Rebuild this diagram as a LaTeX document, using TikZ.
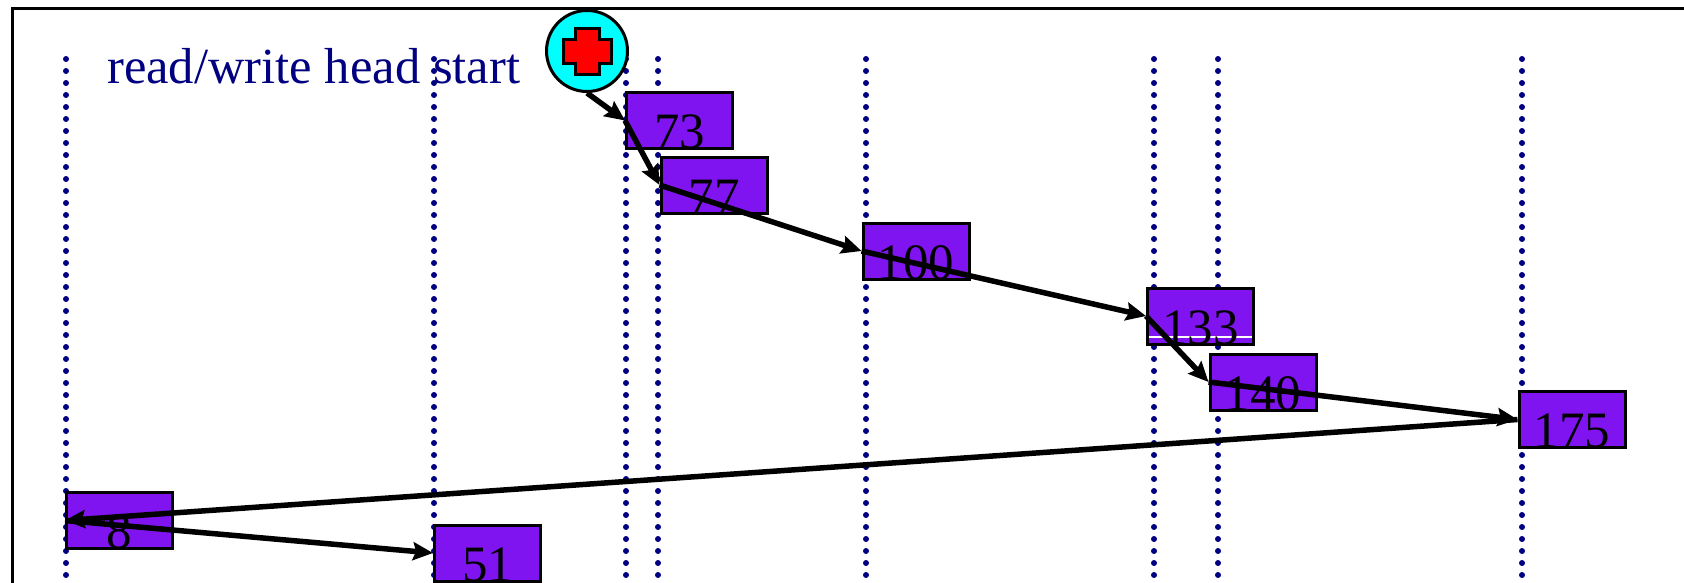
\documentclass[tikz,border=0pt]{standalone}
\usepackage{fontspec}
\setmainfont{Liberation Serif}
\usetikzlibrary{arrows.meta}
\definecolor{dotnavy}{HTML}{000080}
\definecolor{boxpurple}{HTML}{8014F0}
\definecolor{headcyan}{HTML}{00FFFF}
\tikzset{
  frameline/.style={draw=black,line width=3pt},
  dotline/.style={draw=dotnavy,line width=6pt,line cap=round,dash pattern=on 0pt off 12pt},
  stopbox/.style={draw=black,line width=3pt,fill=boxpurple,minimum width=106pt,
    inner sep=0pt,text height=56pt,text depth=0pt,font=\fontsize{51}{51}\selectfont},
  seek/.style={draw=black,line width=5.5pt,-{Stealth[length=20pt,width=18pt,inset=3pt]}},
  headdisc/.style={circle,draw=black,line width=3pt,fill=headcyan,minimum size=81pt,inner sep=0pt},
  crossline/.style={draw=black,line width=3pt,fill=red},
  caption/.style={text=dotnavy,inner sep=0pt,anchor=base west,font=\fontsize{50.6}{50.6}\selectfont}
}
\begin{document}
\begin{tikzpicture}[x=1pt,y=-1pt]
\useasboundingbox (0,0) rectangle (1684,582);
\draw[frameline] (12,590) -- (12,8) -- (1690,8);
\foreach \dx in {66,434,626,658,866,1154,1218,1522}
  \draw[dotline] (\dx,59) -- (\dx,590);
\node[caption] (cap) at (107,83) {read/write head start};
\node[headdisc] (head) at (587,51) {};
\draw[crossline] (575,28) -- (599,28) -- (599,39) -- (611,39) -- (611,63) -- (599,63)
  -- (599,74) -- (575,74) -- (575,63) -- (563,63) -- (563,39) -- (575,39) -- cycle;
\node[stopbox] (n73) at (679.5,120.5) {73};
\node[stopbox] (n77) at (714,185) {77};
\node[stopbox] (n100) at (916,251) {100};
\node[stopbox,path picture={\draw[white,line width=1.2pt]
  ([yshift=7pt]path picture bounding box.south west) -- ([yshift=7pt]path picture bounding box.south east);}]
  (n133) at (1200.5,316) {133};
\node[stopbox] (n140) at (1263,382) {140};
\node[stopbox] (n175) at (1572,419.5) {175};
\node[stopbox] (n8) at (119.5,520.5) {8};
\node[stopbox] (n51) at (487.5,553) {51};
\draw[seek] (head.south) -- (n73.west);
\draw[seek] (n73.west) -- (n77.west);
\draw[seek] (n77.west) -- (n100.west);
\draw[seek] (n100.west) -- (n133.west);
\draw[seek] (n133.west) -- (n140.west);
\draw[seek] (n140.west) -- (n175.west);
\draw[seek] (n175.west) -- (n8.west);
\draw[seek] (n8.west) -- (n51.west);
\end{tikzpicture}
\end{document}
